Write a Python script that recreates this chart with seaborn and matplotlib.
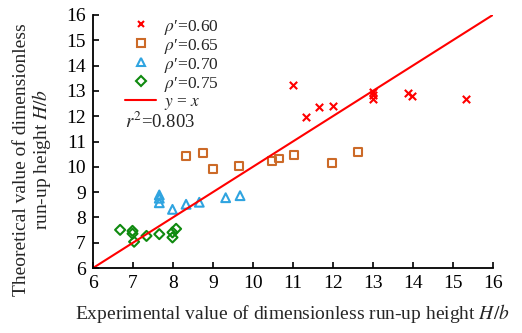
import matplotlib
matplotlib.use("Agg")
import matplotlib.pyplot as plt
import seaborn as sns
import pandas as pd
from matplotlib.lines import Line2D

# Data
x060 = [11.0, 11.33, 11.65, 12.0, 13.0, 13.0, 13.0, 13.88, 13.98, 15.32]
y060 = [13.23, 11.98, 12.36, 12.40, 12.97, 12.84, 12.69, 12.93, 12.81, 12.67]
x065 = [8.33, 8.76, 9.01, 9.66, 10.48, 10.66, 11.03, 11.98, 12.64]
y065 = [10.43, 10.55, 9.93, 10.04, 10.24, 10.33, 10.47, 10.15, 10.57]
x070 = [7.66, 7.66, 7.66, 7.99, 8.33, 8.66, 9.32, 9.68]
y070 = [8.89, 8.76, 8.58, 8.32, 8.52, 8.60, 8.78, 8.86]
x075 = [6.68, 6.99, 6.99, 7.03, 7.34, 7.66, 7.99, 8.08, 7.99]
y075 = [7.51, 7.47, 7.36, 7.04, 7.27, 7.34, 7.41, 7.55, 7.21]
line_x = [6, 16]
r2_text = "0.803"

sns.set_theme(style="ticks")
plt.rcParams['font.family'] = ['Liberation Serif', 'DejaVu Serif']
plt.rcParams['mathtext.fontset'] = 'stix'

fig = plt.figure(figsize=(5.22, 3.33), dpi=100)
ax = fig.add_axes([0.178, 0.195, 0.766, 0.76])

c060 = '#FF0000'
c065 = '#CC6A28'
c070 = '#2FA4E0'
c075 = '#0F8A0F'

sns.scatterplot(x=x060, y=y060, marker='x', color=c060, s=28, linewidth=1.5, ax=ax)
sns.scatterplot(x=x065, y=y065, marker='s', s=32, fc='none', ec=c065, linewidth=1.5, ax=ax)
sns.scatterplot(x=x070, y=y070, marker='^', s=40, fc='none', ec=c070, linewidth=1.5, ax=ax)
sns.scatterplot(x=x075, y=y075, marker='D', s=26, fc='none', ec=c075, linewidth=1.5, ax=ax)
sns.lineplot(x=line_x, y=line_x, color='#FF0000', linewidth=1.5, ax=ax)

ax.set_xlim(6, 16)
ax.set_ylim(6, 16)
ax.set_xticks(range(6, 17))
ax.set_yticks(range(6, 17))
ax.tick_params(direction='in', length=4.5, width=1.2, labelsize=14, colors='black', pad=5)
for s in ['top', 'right']:
    ax.spines[s].set_visible(False)
for s in ['left', 'bottom']:
    ax.spines[s].set_linewidth(1.3)
    ax.spines[s].set_color('black')

ax.set_xlabel(r"Experimental value of dimensionless run-up height $H/b$", fontsize=14, labelpad=7)
ax.set_ylabel("Theoretical value of dimensionless\n" + r"run-up height $H/b$", fontsize=14, linespacing=1.0)
ax.yaxis.set_label_coords(-0.1, 0.43)

handles = [
    Line2D([], [], linestyle='none', marker='x', color=c060, markersize=5, markeredgewidth=1.5),
    Line2D([], [], linestyle='none', marker='s', mfc='none', mec=c065, markersize=5.5, markeredgewidth=1.5),
    Line2D([], [], linestyle='none', marker='^', mfc='none', mec=c070, markersize=6, markeredgewidth=1.5),
    Line2D([], [], linestyle='none', marker='D', mfc='none', mec=c075, markersize=5, markeredgewidth=1.5),
    Line2D([], [], color='#FF0000', linewidth=1.5),
]
labels = [r"$\rho$′=0.60", r"$\rho$′=0.65", r"$\rho$′=0.70", r"$\rho$′=0.75", r"$y$ = $x$"]
leg = ax.legend(handles, labels, loc='upper left', bbox_to_anchor=(0.08, 0.99), frameon=False,
                fontsize=12.5, handlelength=1.8, handletextpad=0.45, labelspacing=0.0,
                borderaxespad=0.0, borderpad=0.0)
ax.text(0.08, 0.577, r"$r^2$=" + r2_text, transform=ax.transAxes, fontsize=13.5, va='center', ha='left')

fig.savefig("out.png", dpi=100)
